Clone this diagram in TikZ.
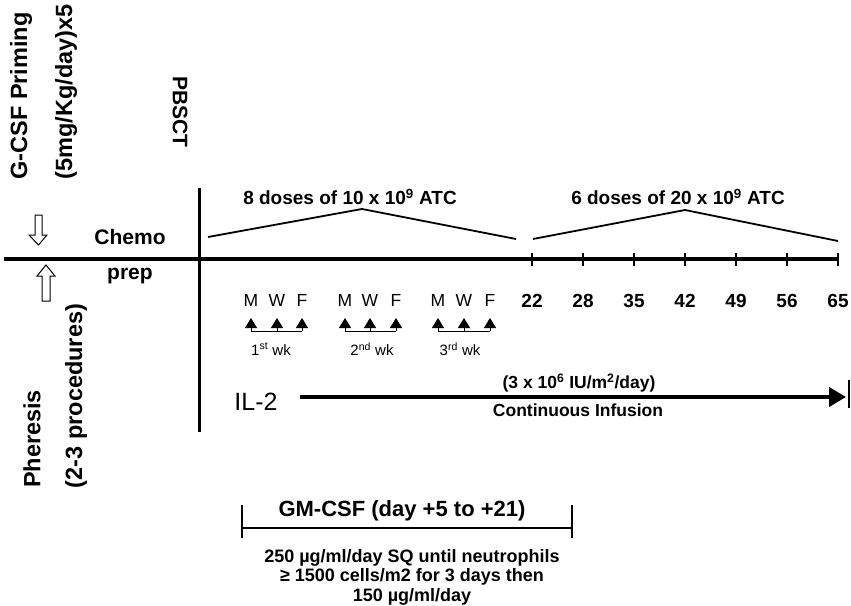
\documentclass[tikz,border=0pt]{standalone}
\usepackage{fontspec}
\setmainfont{Liberation Sans}
\usetikzlibrary{arrows.meta}
\tikzset{
  lbl/.style={inner sep=0pt, font=\bfseries\fontsize{19}{22}\selectfont},
  side/.style={inner sep=0pt, font=\bfseries\fontsize{23.5}{26}\selectfont},
  day/.style={inner sep=0pt, font=\bfseries\fontsize{19}{22}\selectfont},
  mwf/.style={inner sep=0pt, font=\fontsize{17.5}{20}\selectfont},
  wk/.style={inner sep=0pt, font=\fontsize{15}{18}\selectfont},
  bracket/.style={line width=1.8pt},
  hollow/.style={draw, line width=1pt, fill=white},
  dose/.style={line width=1pt, -{Triangle[length=10pt,width=12pt]}},
}
\begin{document}
\begin{tikzpicture}[x=1pt,y=-1pt]
\useasboundingbox (0,0) rectangle (851,605);
% axes
\coordinate (axL) at (4,259);
\coordinate (axR) at (838,259);
\coordinate (vT) at (199,188);
\coordinate (vB) at (199,432);
\draw[line width=3.4pt] (axL) -- (axR);
\draw[line width=3pt] (vT) -- (vB);
% ticks and day labels
\foreach \x/\d in {532/22,583/28,634/35,685/42,736/49,787/56,838/65}{
  \coordinate (t\d a) at (\x,253);
  \coordinate (t\d b) at (\x,266);
  \draw[line width=2pt] (t\d a) -- (t\d b);
  \node[day] (d\d) at (\x,301) {\d};
}
% dose brackets
\coordinate (b1l) at (208,237); \coordinate (b1t) at (362,209); \coordinate (b1r) at (516,239);
\coordinate (b2l) at (533,239); \coordinate (b2t) at (685,210); \coordinate (b2r) at (838,241);
\draw[bracket] (b1l) -- (b1t) -- (b1r);
\draw[bracket] (b2l) -- (b2t) -- (b2r);
\node[lbl] (dose1) at (350,197) {8 doses of 10 x 10\textsuperscript{9} ATC};
\node[lbl] (dose2) at (678,197) {6 doses of 20 x 10\textsuperscript{9} ATC};
% left side texts
\node[side, rotate=90] (gcsf) at (21,96) {G-CSF Priming};
\node[side, rotate=90] (gdose) at (66,92) {(5mg/Kg/day)x5};
\node[lbl, font=\bfseries\fontsize{21}{24}\selectfont, rotate=-90] (pbsct) at (180,112) {PBSCT};
\node[lbl, font=\bfseries\fontsize{21}{24}\selectfont] (chemo) at (130,237) {Chemo};
\node[lbl, font=\bfseries\fontsize{21}{24}\selectfont] (prep) at (130,276) {prep};
\node[side, rotate=90] (pher) at (32,439) {Pheresis};
\node[side, rotate=90] (proc) at (76,396) {(2-3 procedures)};
% hollow arrows
\draw[hollow] (35,215) -- (42,215) -- (42,235) -- (47,235) -- (38.5,245) -- (29,235) -- (35,235) -- cycle;
\draw[hollow] (46,265) -- (55,276) -- (50,276) -- (50,301) -- (42,301) -- (42,276) -- (37,276) -- cycle;
% MWF dose arrows
\foreach \g/\xa/\xb/\xc/\lx/\wk in {1/251/277/302/271/{1\textsuperscript{st} wk},2/345/370/396/372/{2\textsuperscript{nd} wk},3/438/464/490/460/{3\textsuperscript{rd} wk}}{
  \node[mwf] (m\g) at (\xa,300) {M};
  \node[mwf] (w\g) at (\xb,300) {W};
  \node[mwf] (f\g) at (\xc,300) {F};
  \coordinate (ga\g) at (\xa,331);
  \coordinate (gb\g) at (\xb,331);
  \coordinate (gc\g) at (\xc,331);
  \coordinate (ta\g) at (\xa,318);
  \coordinate (tb\g) at (\xb,318);
  \coordinate (tc\g) at (\xc,318);
  \draw[line width=1pt] (ga\g) -- (gc\g);
  \draw[dose] (ga\g) -- (ta\g);
  \draw[dose] (gb\g) -- (tb\g);
  \draw[dose] (gc\g) -- (tc\g);
  \node[wk] (wk\g) at (\lx,349) {\wk};
}
% IL-2
\node[inner sep=0pt, font=\fontsize{25}{28}\selectfont] (il2) at (256,402) {IL-2};
\coordinate (ilS) at (300,397);
\coordinate (ilE) at (846,397);
\draw[line width=4pt, -{Triangle[length=17pt,width=19pt]}] (ilS) -- (ilE);
\coordinate (ilbT) at (849,380);
\coordinate (ilbB) at (849,408);
\draw[line width=2.5pt] (ilbT) -- (ilbB);
\node[lbl, font=\bfseries\fontsize{17.5}{20}\selectfont] (ildose) at (579,383) {(3 x 10\textsuperscript{6} IU/m\textsuperscript{2}/day)};
\node[lbl, font=\bfseries\fontsize{17.5}{20}\selectfont] (ilinf) at (578,410) {Continuous Infusion};
% GM-CSF
\coordinate (gmL) at (242,528);
\coordinate (gmR) at (572,528);
\draw[line width=1.5pt] (gmL) -- (gmR);
\draw[line width=1.5pt] (242,505) -- (242,538);
\draw[line width=1.5pt] (572,505) -- (572,538);
\node[lbl, font=\bfseries\fontsize{22}{25}\selectfont] (gm) at (402,511) {GM-CSF (day +5 to +21)};
\node[lbl, font=\bfseries\fontsize{18}{21}\selectfont, align=center] (gmtxt) at (412,577)
  {250 µg/ml/day SQ until neutrophils\\[-1.5pt] ≥ 1500 cells/m2 for 3 days then\\[-1.5pt] 150 µg/ml/day};
\end{tikzpicture}
\end{document}
